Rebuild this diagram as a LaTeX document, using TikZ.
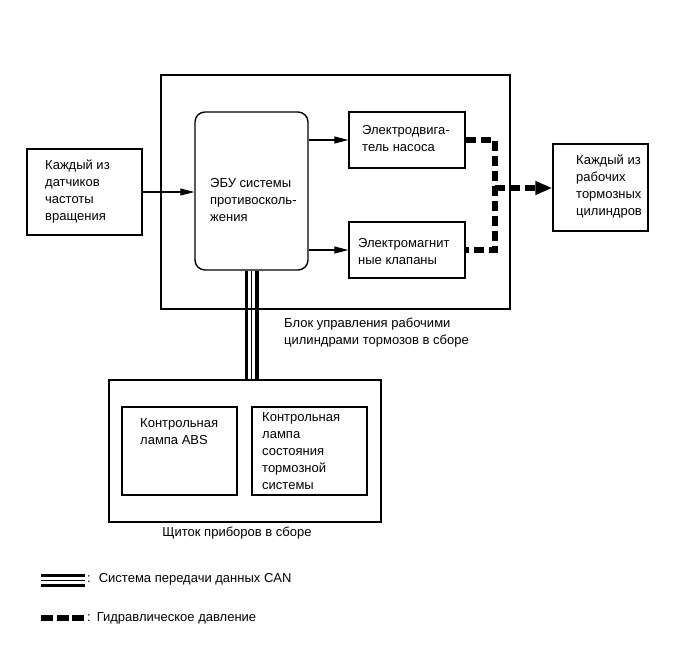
\documentclass[tikz,border=0pt]{standalone}
\usepackage{fontspec}
\setmainfont{Liberation Sans}
\usetikzlibrary{arrows.meta,calc,backgrounds}

\begin{document}
\begin{tikzpicture}[x=1pt,y=-1pt,
  box/.style={draw,line width=1.4pt,inner sep=0pt},
  txt/.style={align=left,inner sep=0pt,font=\fontsize{13}{17}\selectfont},
  sig/.style={line width=1.1pt,-{Triangle[length=14pt,width=7pt]}},
  hydro/.style={line width=6pt,dash pattern=on 10pt off 5pt}]
\useasboundingbox (0,0) rectangle (690,659);
% Actuator assembly with ECU, pump motor and solenoid valves.
\node[box,minimum width=349,minimum height=234] (actuator) at (335.5,192) {};
\node[box,rounded corners=10pt,minimum width=113,minimum height=158] (ecu) at (251.5,191) {};
\node[box,minimum width=116,minimum height=56] (pump) at (407,140) {};
\node[box,minimum width=116,minimum height=56] (valves) at (407,250) {};
\node[txt,anchor=west] (ecutxt) at (210,200) {ЭБУ системы\\противосколь-\\жения};
\node[txt,anchor=west] (pumptxt) at (362,139) {Электродвига-\\тель насоса};
\node[txt,anchor=west] (valvestxt) at (358,252) {Электромагнит\\ные клапаны};
\node[txt,anchor=north west] (actuatorlbl) at (284,318) {Блок управления рабочими\\цилиндрами тормозов в сборе};
% Speed sensors and wheel cylinders.
\node[box,minimum width=115,minimum height=86] (sensors) at (84.5,192) {};
\node[txt,anchor=west] (sensorstxt) at (45,192) {Каждый из\\датчиков\\частоты\\вращения};
\node[box,minimum width=95,minimum height=87] (cyl) at (600.5,187.5) {};
\node[txt,anchor=west] (cyltxt) at (576,187) {Каждый из\\рабочих\\тормозных\\цилиндров};
% Combination meter.
\node[box,minimum width=272,minimum height=142] (cluster) at (245,451) {};
\node[box,minimum width=115,minimum height=88] (abslamp) at (179.5,451) {};
\node[box,minimum width=115,minimum height=88] (brakelamp) at (309.5,451) {};
\node[txt,anchor=west] (abstxt) at (140,432) {Контрольная\\лампа ABS};
\node[txt,anchor=west] (braketxt) at (262,451) {Контрольная\\лампа\\состояния\\тормозной\\системы};
\node[txt] (clusterlbl) at (237,533) {Щиток приборов в сборе};
% Signal lines.
\draw[sig] (sensors.east) -- (ecu.west |- sensors.east);
\draw[sig] (ecu.east |- pump.west) -- (pump.west);
\draw[sig] (ecu.east |- valves.west) -- (valves.west);
% Hydraulic pressure.
\coordinate (hj) at (495,188);
\draw[hydro] (pump.east) -| (hj) |- (valves.east);
\draw[hydro,-{Triangle[length=17pt,width=13pt]}] (hj) -- (hj -| cyl.west);
% CAN bus, behind the box borders.
\begin{pgfonlayer}{background}
\foreach \w/\c in {14/black,7.5/white,1.4/black}
  \draw[line width=\w,\c] (ecu.south) -- (ecu.south |- cluster.north);
\end{pgfonlayer}
% Legend.
\coordinate (canA) at (41,580.5);
\coordinate (canB) at (85,580.5);
\foreach \w/\c in {13/black,7/white,1.4/black}
  \draw[line width=\w,\c] (canA) -- (canB);
\node[txt,anchor=west] (cankey) at (87,579) {:\hspace{8pt}Система передачи данных CAN};
\coordinate (hydA) at (41,618);
\coordinate (hydB) at (84,618);
\draw[line width=5.5,dash pattern=on 12pt off 3.5pt] (hydA) -- (hydB);
\node[txt,anchor=west] (hydkey) at (87,618) {:\hspace{6pt}Гидравлическое давление};
\end{tikzpicture}
\end{document}
